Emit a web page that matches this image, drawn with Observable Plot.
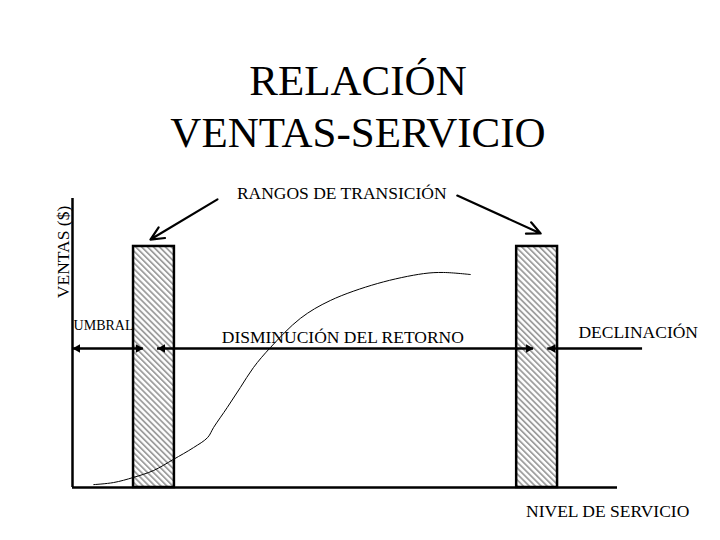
<!DOCTYPE html>
<html>
<head>
<meta charset="utf-8">
<script src="https://cdn.jsdelivr.net/npm/d3@7"></script>
<script src="https://cdn.jsdelivr.net/npm/@observablehq/plot@0.6"></script>
<style>
  html, body { margin: 0; padding: 0; background: #fff; }
  #title { box-sizing: border-box; width: 720px; height: 160px; padding-top: 54.5px; padding-right: 4px;
    font-family: "Liberation Serif", "Times New Roman", serif; font-size: 43px; line-height: 52px;
    text-align: center; color: #000; }
  #chart svg { display: block; }
</style>
</head>
<body>
<div id="title">RELACIÓN<br>VENTAS-SERVICIO</div>
<div id="chart"></div>
<script>
// ---- data (service level 0–100 on x, sales 0–100 on y) ----
const curveX = [3.9, 7.5, 11.2, 14.9, 18.5, 22.2, 24.8, 25.9, 28.4, 30.8, 33.2, 36.3, 41.8, 47.3, 56.0, 64.4, 68.1, 73.0];
const curveY = [1.0, 1.7, 3.5, 5.9, 9.7, 13.8, 17.3, 20.8, 27.7, 34.6, 41.5, 48.4, 58.5, 64.7, 70.6, 74.0, 74.4, 73.7];

const bandX1 = [11.2, 81.5];
const bandX2 = [18.7, 89.0];
const bandTop = 83.4;

const rangeY = 48.1;
const rangeStart = [0, 15.6, 87.2];
const rangeEnd = [13.0, 84.6, 104.6];
const headLeft = [true, true, true];
const headRight = [true, true, false];

const pointerFromX = [26.6, 70.6];
const pointerFromY = [99.7, 101.0];
const pointerToX = [14.3, 85.9];
const pointerToY = [85.8, 87.9];

const labelText = ["RANGOS DE TRANSICIÓN", "DISMINUCIÓN DEL RETORNO", "DECLINACIÓN", "NIVEL DE SERVICIO"];
const labelX = [49.4, 49.6, 103.8, 98.2];
const labelY = [101.9, 52.1, 53.8, -8.4];

const umbralText = "UMBRAL";
const umbralX = 0.2, umbralY = 55.9;

const yLabel = "VENTAS ($)";
const yLabelX = -1.74, yLabelY = 81.5;

// ---- tables built from the arrays ----
const curve = curveX.map((x, i) => ({x, y: curveY[i]}));
const bands = bandX1.map((x1, i) => ({x1, x2: bandX2[i], y1: 0, y2: bandTop}));
const ranges = rangeStart.map((x1, i) => ({x1, x2: rangeEnd[i], y: rangeY}));
const leftHeads = rangeStart.filter((_, i) => headLeft[i]).map(x => ({x, y: rangeY}));
const rightHeads = rangeEnd.filter((_, i) => headRight[i]).map(x => ({x, y: rangeY}));
const pointers = pointerFromX.map((x1, i) => ({x1, y1: pointerFromY[i], x2: pointerToX[i], y2: pointerToY[i]}));
const labels = labelText.map((t, i) => ({t, x: labelX[i], y: labelY[i]}));

const font = "Liberation Serif";

const svg = Plot.plot({
  width: 720,
  height: 380,
  marginLeft: 72,
  marginRight: 103,
  marginTop: 38,
  marginBottom: 53,
  x: {domain: [0, 100], axis: null},
  y: {domain: [0, 100], axis: null},
  style: {fontFamily: font, background: "white", overflow: "visible"},
  marks: [
    Plot.rect(bands, {x1: "x1", x2: "x2", y1: "y1", y2: "y2", fill: "url(#hatch)", stroke: "black", strokeWidth: 2.5}),
    Plot.line(curve, {x: "x", y: "y", curve: "catmull-rom", stroke: "black", strokeWidth: 1}),
    Plot.ruleX([0], {y1: 0, y2: 100, stroke: "black", strokeWidth: 2.5}),
    Plot.ruleY([0], {x1: 0, x2: 100, stroke: "black", strokeWidth: 2.5}),
    Plot.ruleY(ranges, {x1: "x1", x2: "x2", y: "y", stroke: "black", strokeWidth: 2.5}),
    Plot.dot(leftHeads, {x: "x", y: "y", symbol: "triangle", rotate: -90, r: 3.2, dx: 5, fill: "black", stroke: "none"}),
    Plot.dot(rightHeads, {x: "x", y: "y", symbol: "triangle", rotate: 90, r: 3.2, dx: -5, fill: "black", stroke: "none"}),
    Plot.arrow(pointers, {x1: "x1", y1: "y1", x2: "x2", y2: "y2", stroke: "black", strokeWidth: 2.2, headLength: 10, headAngle: 50}),
    Plot.text(labels, {x: "x", y: "y", text: "t", fontSize: 17.5, fontFamily: font, fill: "black"}),
    Plot.text([umbralText], {x: umbralX, y: umbralY, text: d => d, fontSize: 14, fontFamily: font, textAnchor: "start", fill: "black"}),
    Plot.text([yLabel], {x: yLabelX, y: yLabelY, text: d => d, fontSize: 17.5, fontFamily: font, rotate: -90, fill: "black"})
  ]
});

// hatch pattern for the transition bands
const defs = d3.select(svg).insert("defs", ":first-child");
const pat = defs.append("pattern")
  .attr("id", "hatch")
  .attr("patternUnits", "userSpaceOnUse")
  .attr("width", 4.2).attr("height", 4.2)
  .attr("patternTransform", "rotate(-45)");
pat.append("rect").attr("width", 4.2).attr("height", 4.2).attr("fill", "white");
pat.append("rect").attr("width", 1.8).attr("height", 4.2).attr("fill", "#9e9e9e");
d3.select(svg).selectAll("g[aria-label=rect] rect").attr("fill", "url(#hatch)");

document.getElementById("chart").appendChild(svg);
</script>
</body>
</html>
